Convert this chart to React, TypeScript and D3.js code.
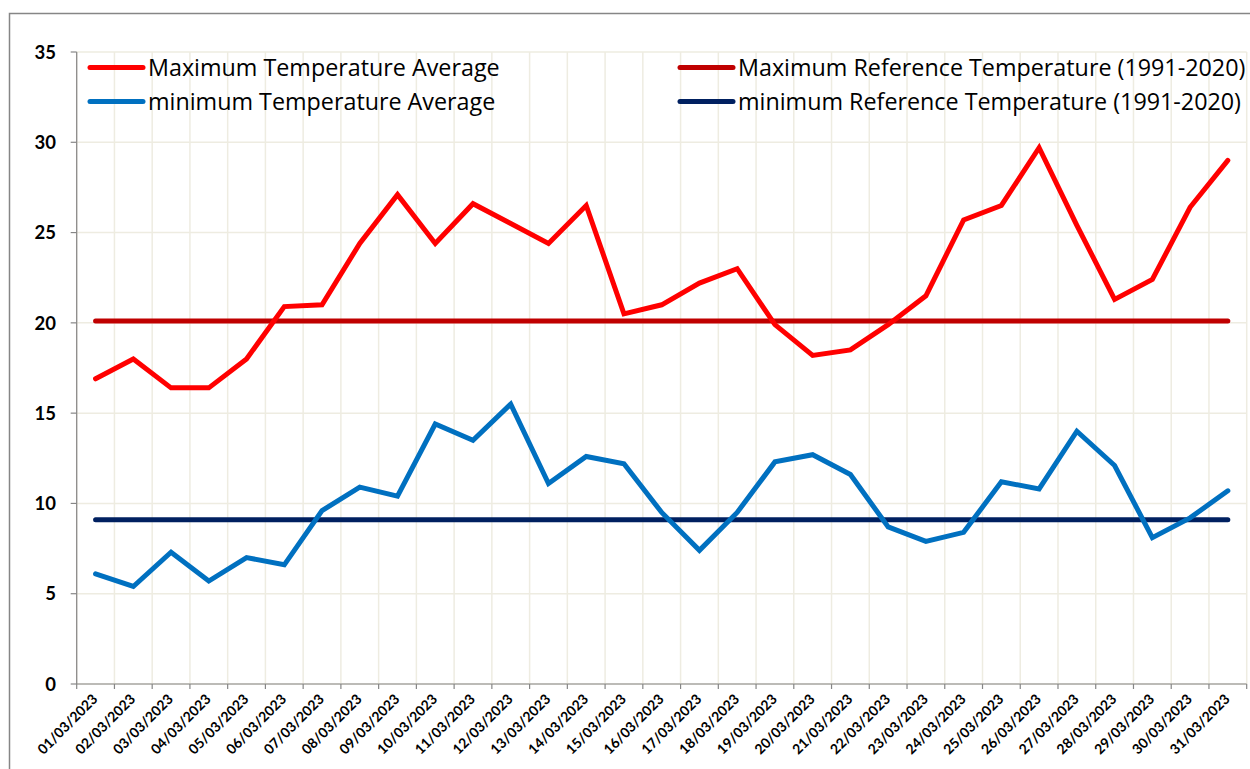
import React from "react";
import * as d3 from "d3";

const dates = [
  "01/03/2023","02/03/2023","03/03/2023","04/03/2023","05/03/2023","06/03/2023","07/03/2023","08/03/2023",
  "09/03/2023","10/03/2023","11/03/2023","12/03/2023","13/03/2023","14/03/2023","15/03/2023","16/03/2023",
  "17/03/2023","18/03/2023","19/03/2023","20/03/2023","21/03/2023","22/03/2023","23/03/2023","24/03/2023",
  "25/03/2023","26/03/2023","27/03/2023","28/03/2023","29/03/2023","30/03/2023","31/03/2023",
];
const maxAvg = [16.9,18.0,16.4,16.4,18.0,20.9,21.0,24.4,27.1,24.4,26.6,25.5,24.4,26.5,20.5,21.0,
  22.2,23.0,19.9,18.2,18.5,19.9,21.5,25.7,26.5,29.7,25.4,21.3,22.4,26.4,29.0];
const minAvg = [6.1,5.4,7.3,5.7,7.0,6.6,9.6,10.9,10.4,14.4,13.5,15.5,11.1,12.6,12.2,9.5,
  7.4,9.5,12.3,12.7,11.6,8.7,7.9,8.4,11.2,10.8,14.0,12.1,8.1,9.2,10.7];
const maxRef = 20.1;
const minRef = 9.1;
const yTicks = [0, 5, 10, 15, 20, 25, 30, 35];

const seriesNames = [
  "Maximum Temperature Average",
  "minimum Temperature Average",
  "Maximum Reference Temperature (1991-2020)",
  "minimum Reference Temperature (1991-2020)",
];
const seriesColors = ["#FF0000", "#0070C0", "#C00000", "#002060"];

export default function App() {
  const W = 1250, H = 769;
  const left = 76.7, right = 1246.7, top = 52, bottom = 684;
  const x = d3.scaleBand<string>().domain(dates).range([left, right]).paddingInner(0).paddingOuter(0);
  const y = d3.scaleLinear().domain([0, 35]).range([bottom, top]);
  const cx = (d: string) => (x(d) as number) + x.bandwidth() / 2;

  const line = d3.line<number>().x((_, i) => cx(dates[i])).y((v) => y(v));
  const maxRefArr = dates.map(() => maxRef);
  const minRefArr = dates.map(() => minRef);

  const font = "Lato, 'Noto Sans', sans-serif";
  const legendFont = "'Open Sans', 'Noto Sans', sans-serif";
  const grid = "#EEECE1";
  const axis = "#868686";
  const boundaries = dates.map((d) => x(d) as number).concat([right]);

  const legend = [
    { name: seriesNames[0], color: seriesColors[0], lx: 90, ly: 67.5 },
    { name: seriesNames[1], color: seriesColors[1], lx: 90, ly: 101.5 },
    { name: seriesNames[2], color: seriesColors[2], lx: 680, ly: 67.5 },
    { name: seriesNames[3], color: seriesColors[3], lx: 680, ly: 101.5 },
  ];

  return (
    <svg width={W} height={H} style={{ position: "absolute", left: 0, top: 0, background: "#fff" }} fontFamily={font}>
      <rect x={0} y={0} width={W} height={H} fill="#fff" />
      <rect x={9.5} y={13.5} width={1300} height={900} fill="none" stroke={axis} strokeWidth={1.5} />
      {yTicks.map((t) => (
        <line key={"h" + t} x1={left} x2={right} y1={y(t)} y2={y(t)} stroke={grid} strokeWidth={1.5} />
      ))}
      {boundaries.map((b, i) => (
        <line key={"v" + i} x1={b} x2={b} y1={top} y2={bottom} stroke={grid} strokeWidth={1.5} />
      ))}
      <line x1={left} x2={left} y1={top} y2={bottom} stroke={axis} strokeWidth={1.2} />
      <line x1={left} x2={right} y1={bottom} y2={bottom} stroke={axis} strokeWidth={1.2} />
      {yTicks.map((t) => (
        <g key={"yt" + t}>
          <line x1={left - 6} x2={left} y1={y(t)} y2={y(t)} stroke={axis} strokeWidth={1.2} />
          <text x={56} y={y(t)} dy="0.36em" textAnchor="end" fontSize={18.5} fontWeight="bold" fill="#000">{t}</text>
        </g>
      ))}
      {boundaries.map((b, i) => (
        <line key={"xt" + i} x1={b} x2={b} y1={bottom} y2={bottom + 5} stroke={axis} strokeWidth={1.2} />
      ))}
      {dates.map((d) => (
        <text key={"xl" + d} transform={`translate(${cx(d) + 3},${bottom + 16}) rotate(-45)`} textAnchor="end"
          fontSize={14} fontWeight="bold" fill="#000">{d}</text>
      ))}
      <path d={line(maxRefArr) || ""} fill="none" stroke={seriesColors[2]} strokeWidth={5} strokeLinecap="round" />
      <path d={line(minRefArr) || ""} fill="none" stroke={seriesColors[3]} strokeWidth={5} strokeLinecap="round" />
      <path d={line(maxAvg) || ""} fill="none" stroke={seriesColors[0]} strokeWidth={5} strokeLinecap="round" strokeLinejoin="miter" />
      <path d={line(minAvg) || ""} fill="none" stroke={seriesColors[1]} strokeWidth={5} strokeLinecap="round" strokeLinejoin="miter" />
      {legend.map((l) => (
        <g key={l.name}>
          <line x1={l.lx} x2={l.lx + 53} y1={l.ly} y2={l.ly} stroke={l.color} strokeWidth={5} strokeLinecap="round" />
          <text x={l.lx + 58} y={l.ly} dy="0.36em" fontSize={23.3} fill="#000" fontFamily={legendFont}>{l.name}</text>
        </g>
      ))}
    </svg>
  );
}
